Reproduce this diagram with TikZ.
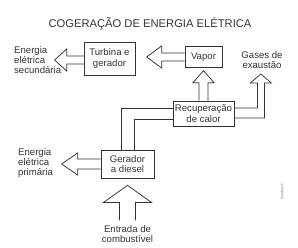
\documentclass[tikz,border=0pt]{standalone}
\usepackage{fontspec}
\setmainfont{Liberation Sans}
\usetikzlibrary{calc}
\definecolor{ink}{HTML}{333333}
\tikzset{
  boxnode/.style={draw=ink, line width=0.75pt, fill=white, inner sep=0pt, align=center, text=ink, font=\fontsize{9.6}{10.3}\selectfont},
  lbl/.style={inner sep=0pt, text=ink, font=\fontsize{9.6}{10}\selectfont},
  blk/.style={draw=ink, line width=0.75pt, line join=miter}
}
\begin{document}
\begin{tikzpicture}[x=1pt, y=-1pt]
\useasboundingbox (0,0) rectangle (298,247);
\node[inner sep=0pt, text=ink, font=\fontsize{11.2}{12}\selectfont] (title) at (150,24) {COGERAÇÃO DE ENERGIA ELÉTRICA};

\node[boxnode, minimum width=51pt, minimum height=33pt] (turb) at (109.5,58.5) {Turbina e\\gerador};
\node[boxnode, minimum width=37pt, minimum height=21pt] (vapor) at (203.5,57) {Vapor};
\node[boxnode, minimum width=61pt, minimum height=25pt] (recup) at (203.5,113.5) {Recuperação\\de calor};
\node[boxnode, minimum width=53pt, minimum height=28pt] (gen) at (127.5,164) {Gerador\\a diesel};

\node[lbl, anchor=west, align=left] (sec) at (14,60) {Energia\\elétrica\\secundária};
\node[lbl, align=center] (gases) at (262,60) {Gases de\\exaustão};
\node[lbl, anchor=west, align=left] (prim) at (18,163.5) {Energia\\elétrica\\primária};
\node[lbl, align=center] (entr) at (127.5,234) {Entrada de\\combustível};
\node[inner sep=0pt, text=black!55, rotate=90, font=\fontsize{3.6}{4}\selectfont] (wm) at (282,192) {Interbits®};

% Vapor -> Turbina
\draw[blk] ($(vapor.west)+(0,-4)$) -- ++(-23,0) -- ++(0,-7) -- ++(-15,11) -- ++(15,11) -- ++(0,-7) -- ($(vapor.west)+(0,4)$);
% Turbina -> Energia secundaria
\draw[blk] ($(turb.west)+(0,-2.5)$) -- ++(-17,0) -- ++(0,-7) -- ++(-12,11) -- ++(12,11) -- ++(0,-7) -- ($(turb.west)+(0,5.5)$);
% Recuperacao -> Vapor
\draw[blk] ($(recup.north)+(-4.5,0)$) -- ++(0,-18) -- ++(-6,0) -- ++(10.5,-12) -- ++(10.5,12) -- ++(-6,0) -- ($(recup.north)+(4.5,0)$);
% Recuperacao -> Gases de exaustao
\draw[blk] ($(recup.east)+(0,-5.5)$) -- ++(23,0) -- ++(0,-25) -- ++(-7,0) -- ++(10.5,-9) -- ++(10.5,9) -- ++(-7,0) -- ++(0,35) -- ($(recup.east)+(0,4.5)$);
% Gerador <-> Recuperacao pipe
\draw[blk] ($(recup.west)+(0,-5.5)$) -| ($(gen.north)+(-6.5,0)$);
\draw[blk] ($(recup.west)+(0,5.5)$) -| ($(gen.north)+(6.5,0)$);
% Gerador -> Energia primaria
\draw[blk] ($(gen.west)+(0,-5)$) -- ++(-23,0) -- ++(0,-6) -- ++(-16,11) -- ++(16,11) -- ++(0,-6) -- ($(gen.west)+(0,5)$);
% Entrada -> Gerador
\draw[blk] ($(gen.south)+(-8,42)$) -- ++(0,-18) -- ++(-16,0) -- ++(24,-17) -- ++(24,17) -- ++(-16,0) -- ++(0,18);
\end{tikzpicture}
\end{document}
